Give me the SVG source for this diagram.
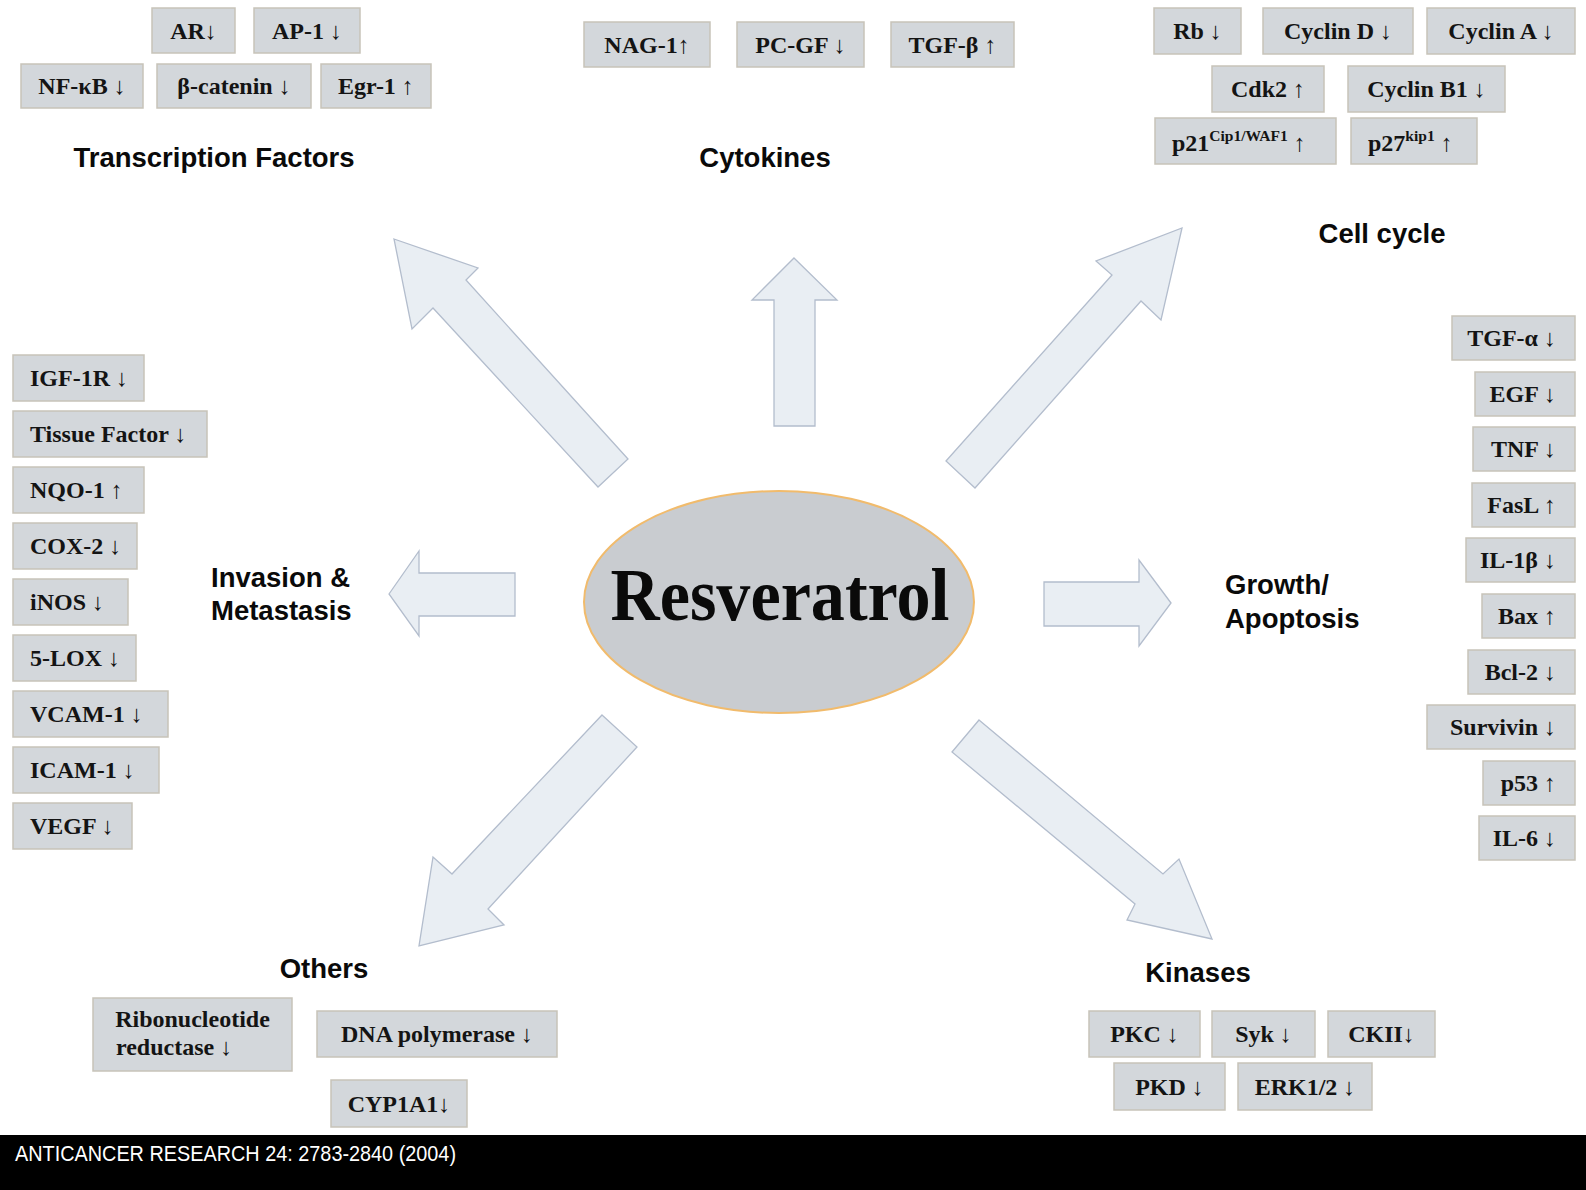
<svg xmlns="http://www.w3.org/2000/svg" width="1586" height="1190" viewBox="0 0 1586 1190">
<style>
.box{fill:#d3d7db;stroke:#c7c3b9;stroke-width:1.5}
.bt{font-family:"Liberation Serif","DejaVu Serif",serif;font-weight:bold;font-size:24px;fill:#141414}
.c{text-anchor:middle}
.r{text-anchor:end}
.lbl{font-family:"Liberation Sans",Arial,sans-serif;font-weight:bold;font-size:27.5px;fill:#0a0a0a}
.arr{fill:#e9eef3;stroke:#b3bdcd;stroke-width:1.3;stroke-linejoin:miter}
.sup{font-size:15.5px}
</style>
<rect width="1586" height="1190" fill="#ffffff"/>

<g id="connectors">
<polygon class="arr" points="394,239 478,268 466,280 628,459 598,487 433,308 412,329"/>
<polygon class="arr" points="794,258 837,300 815,300 815,426 774,426 774,300 752,300"/>
<polygon class="arr" points="1182,228 1161,320 1141,301 975,488 946,461 1112,275 1096,261"/>
<polygon class="arr" points="389,594 419,551 419,573 515,573 515,616 419,616 419,636"/>
<polygon class="arr" points="1171,603 1139,560 1139,582 1044,582 1044,626 1139,626 1139,646"/>
<polygon class="arr" points="602,715 637,747 488,909 504,925 419,946 433,857 452,874"/>
<polygon class="arr" points="979,720 1163,874 1179,859 1212,939 1127,920 1135,904 952,752"/>
</g>

<g id="resveratrol">
<ellipse cx="779" cy="602" rx="195" ry="111" fill="#c9ccd0" stroke="#f1bb6c" stroke-width="2"/>
<text x="780" y="620" text-anchor="middle" font-family="'Liberation Serif','DejaVu Serif',serif" font-weight="bold" font-size="74" textLength="339" lengthAdjust="spacingAndGlyphs" fill="#0a0a0a">Resveratrol</text>
</g>

<g id="transcription-factors">
<text class="lbl c" x="214" y="167">Transcription Factors</text>
<g id="tf-ar"><rect class="box" x="152" y="8" width="83" height="45"/><text class="bt c" x="193.5" y="38.5">AR↓</text></g>
<g id="tf-ap1"><rect class="box" x="254" y="8" width="106" height="45"/><text class="bt c" x="307" y="38.5">AP-1 ↓</text></g>
<g id="tf-nfkb"><rect class="box" x="21" y="64" width="122" height="44"/><text class="bt c" x="82" y="94">NF-κB ↓</text></g>
<g id="tf-bcat"><rect class="box" x="157" y="64" width="154" height="44"/><text class="bt c" x="234" y="94">β-catenin ↓</text></g>
<g id="tf-egr1"><rect class="box" x="321" y="64" width="110" height="44"/><text class="bt c" x="376" y="94">Egr-1 ↑</text></g>
</g>

<g id="cytokines">
<text class="lbl c" x="765" y="167">Cytokines</text>
<g id="cy-nag1"><rect class="box" x="584" y="22" width="126" height="45"/><text class="bt c" x="647" y="52.5">NAG-1↑</text></g>
<g id="cy-pcgf"><rect class="box" x="737" y="22" width="127" height="45"/><text class="bt c" x="800.5" y="52.5">PC-GF ↓</text></g>
<g id="cy-tgfb"><rect class="box" x="891" y="22" width="123" height="45"/><text class="bt c" x="952.5" y="52.5">TGF-β ↑</text></g>
</g>

<g id="cell-cycle">
<text class="lbl c" x="1382" y="243">Cell cycle</text>
<g id="cc-rb"><rect class="box" x="1154" y="8" width="87" height="46"/><text class="bt c" x="1197.5" y="39">Rb ↓</text></g>
<g id="cc-cycd"><rect class="box" x="1263" y="8" width="150" height="46"/><text class="bt c" x="1338" y="39">Cyclin D ↓</text></g>
<g id="cc-cyca"><rect class="box" x="1427" y="8" width="148" height="46"/><text class="bt c" x="1501" y="39">Cyclin A ↓</text></g>
<g id="cc-cdk2"><rect class="box" x="1212" y="66" width="112" height="46"/><text class="bt c" x="1268" y="97">Cdk2 ↑</text></g>
<g id="cc-cycb1"><rect class="box" x="1348" y="66" width="157" height="46"/><text class="bt c" x="1426.5" y="97">Cyclin B1 ↓</text></g>
<g id="cc-p21"><rect class="box" x="1155" y="118" width="181" height="46"/><text class="bt" x="1172" y="151">p21<tspan class="sup" dy="-10">Cip1/WAF1</tspan><tspan dy="10"> ↑</tspan></text></g>
<g id="cc-p27"><rect class="box" x="1351" y="118" width="126" height="46"/><text class="bt" x="1368" y="151">p27<tspan class="sup" dy="-10">kip1</tspan><tspan dy="10"> ↑</tspan></text></g>
</g>

<g id="invasion-metastasis">
<text class="lbl" x="211" y="587">Invasion &amp;</text>
<text class="lbl" x="211" y="620">Metastasis</text>
<g id="im-igf1r"><rect class="box" x="13" y="355" width="131" height="46"/><text class="bt" x="30" y="386">IGF-1R ↓</text></g>
<g id="im-tf"><rect class="box" x="13" y="411" width="194" height="46"/><text class="bt" x="30" y="442">Tissue Factor ↓</text></g>
<g id="im-nqo1"><rect class="box" x="13" y="467" width="131" height="46"/><text class="bt" x="30" y="498">NQO-1 ↑</text></g>
<g id="im-cox2"><rect class="box" x="13" y="523" width="124" height="46"/><text class="bt" x="30" y="554">COX-2 ↓</text></g>
<g id="im-inos"><rect class="box" x="13" y="579" width="115" height="46"/><text class="bt" x="30" y="610">iNOS ↓</text></g>
<g id="im-5lox"><rect class="box" x="13" y="635" width="123" height="46"/><text class="bt" x="30" y="666">5-LOX ↓</text></g>
<g id="im-vcam1"><rect class="box" x="13" y="691" width="155" height="46"/><text class="bt" x="30" y="722">VCAM-1 ↓</text></g>
<g id="im-icam1"><rect class="box" x="13" y="747" width="146" height="46"/><text class="bt" x="30" y="778">ICAM-1 ↓</text></g>
<g id="im-vegf"><rect class="box" x="13" y="803" width="119" height="46"/><text class="bt" x="30" y="834">VEGF ↓</text></g>
</g>

<g id="growth-apoptosis">
<text class="lbl" x="1225" y="594">Growth/</text>
<text class="lbl" x="1225" y="628">Apoptosis</text>
<g id="ga-tgfa"><rect class="box" x="1452" y="316" width="123" height="44"/><text class="bt r" x="1556" y="346">TGF-α ↓</text></g>
<g id="ga-egf"><rect class="box" x="1475" y="372" width="100" height="44"/><text class="bt r" x="1556" y="402">EGF ↓</text></g>
<g id="ga-tnf"><rect class="box" x="1473" y="427" width="102" height="44"/><text class="bt r" x="1556" y="457">TNF ↓</text></g>
<g id="ga-fasl"><rect class="box" x="1472" y="483" width="103" height="44"/><text class="bt r" x="1556" y="513">FasL ↑</text></g>
<g id="ga-il1b"><rect class="box" x="1466" y="538" width="109" height="44"/><text class="bt r" x="1556" y="568">IL-1β ↓</text></g>
<g id="ga-bax"><rect class="box" x="1482" y="594" width="93" height="44"/><text class="bt r" x="1556" y="624">Bax ↑</text></g>
<g id="ga-bcl2"><rect class="box" x="1468" y="650" width="107" height="44"/><text class="bt r" x="1556" y="680">Bcl-2 ↓</text></g>
<g id="ga-survivin"><rect class="box" x="1427" y="705" width="148" height="44"/><text class="bt r" x="1556" y="735">Survivin ↓</text></g>
<g id="ga-p53"><rect class="box" x="1483" y="761" width="92" height="44"/><text class="bt r" x="1556" y="791">p53 ↑</text></g>
<g id="ga-il6"><rect class="box" x="1479" y="816" width="96" height="44"/><text class="bt r" x="1556" y="846">IL-6 ↓</text></g>
</g>

<g id="others">
<text class="lbl c" x="324" y="978">Others</text>
<g id="ot-rnr"><rect class="box" x="93" y="998" width="199" height="73"/><text class="bt c" x="192.5" y="1027">Ribonucleotide</text><text class="bt" x="116" y="1055">reductase ↓</text></g>
<g id="ot-dnapol"><rect class="box" x="317" y="1011" width="240" height="46"/><text class="bt c" x="437" y="1042">DNA polymerase ↓</text></g>
<g id="ot-cyp1a1"><rect class="box" x="331" y="1080" width="136" height="47"/><text class="bt c" x="399" y="1111.5">CYP1A1↓</text></g>
</g>

<g id="kinases">
<text class="lbl c" x="1198" y="982">Kinases</text>
<g id="ki-pkc"><rect class="box" x="1089" y="1011" width="111" height="46"/><text class="bt c" x="1144.5" y="1042">PKC ↓</text></g>
<g id="ki-syk"><rect class="box" x="1212" y="1011" width="103" height="46"/><text class="bt c" x="1263.5" y="1042">Syk ↓</text></g>
<g id="ki-ckii"><rect class="box" x="1328" y="1011" width="107" height="46"/><text class="bt c" x="1381.5" y="1042">CKII↓</text></g>
<g id="ki-pkd"><rect class="box" x="1114" y="1063" width="111" height="47"/><text class="bt c" x="1169.5" y="1094.5">PKD ↓</text></g>
<g id="ki-erk"><rect class="box" x="1238" y="1063" width="134" height="47"/><text class="bt c" x="1305" y="1094.5">ERK1/2 ↓</text></g>
</g>

<g id="footer">
<rect x="0" y="1135" width="1586" height="55" fill="#000000"/>
<text x="15" y="1161" font-family="'Liberation Sans',Arial,sans-serif" font-size="22" fill="#ffffff" textLength="441" lengthAdjust="spacingAndGlyphs">ANTICANCER RESEARCH 24: 2783-2840 (2004)</text>
</g>
</svg>
